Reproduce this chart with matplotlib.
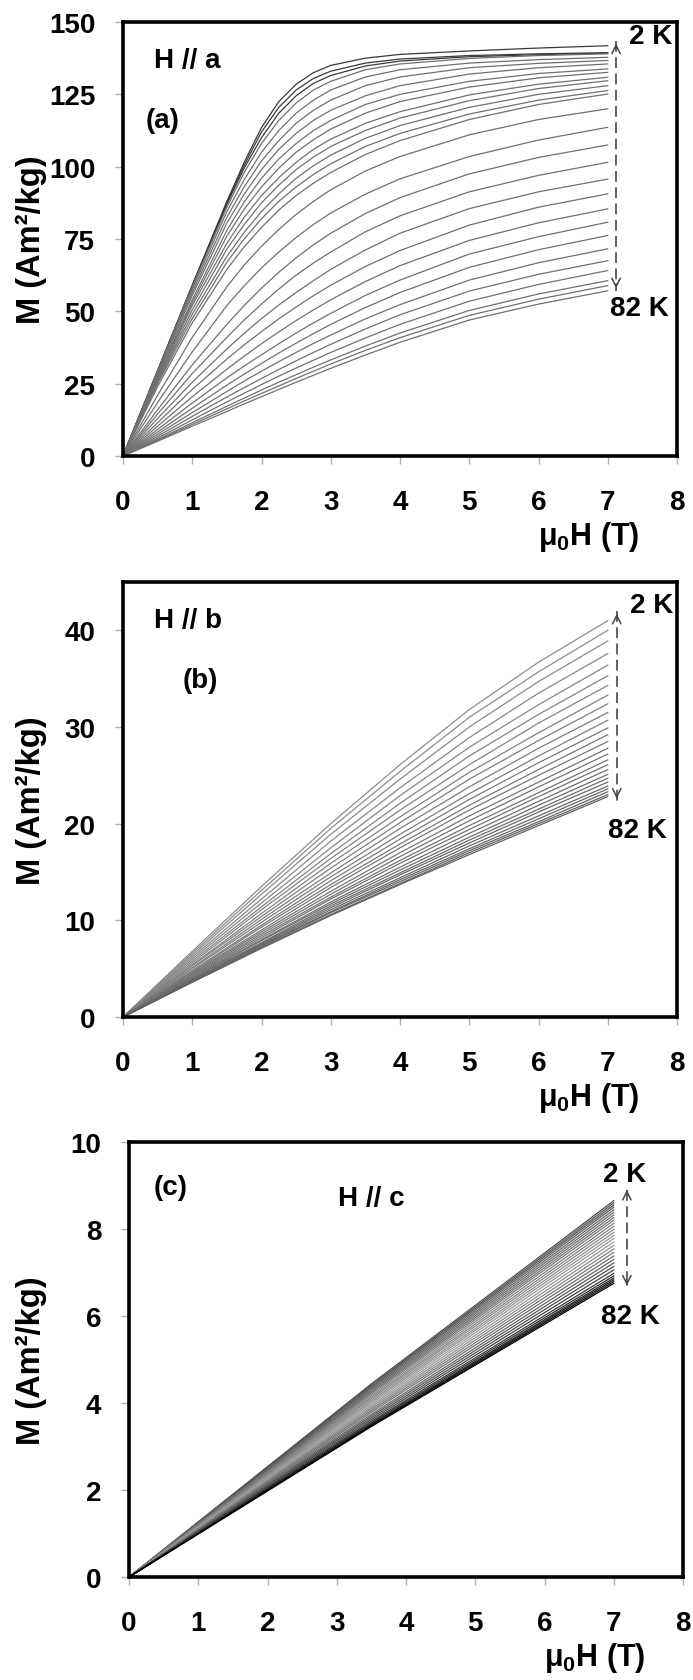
import matplotlib
matplotlib.use('Agg')
import matplotlib.pyplot as plt
import numpy as np

plt.rcParams['font.family'] = ['Liberation Sans', 'DejaVu Sans']
plt.rcParams['font.weight'] = 'bold'
plt.rcParams['axes.labelweight'] = 'bold'
plt.rcParams['mathtext.fontset'] = 'custom'
plt.rcParams['mathtext.bf'] = 'Liberation Sans:bold'
plt.rcParams['mathtext.rm'] = 'Liberation Sans:bold'
plt.rcParams['mathtext.default'] = 'bf'

# ---- Daten: M(H) Kurven von 2 K (oben) bis 82 K (unten) ----
# (a) H // a
H_a = [0, 0.5, 1, 1.5, 1.75, 2, 2.25, 2.5, 2.75, 3, 3.5, 4, 5, 6, 7]
M_a = [
    [0, 29.5, 59.0, 88.0, 101.5, 113.5, 122.5, 128.5, 132.5, 135.0, 137.5, 138.8, 140.0, 141.0, 141.8],
    [0, 29.5, 59.0, 87.5, 100.5, 112.0, 120.5, 126.5, 130.5, 133.0, 135.8, 137.2, 138.4, 139.0, 139.4],
    [0, 29.5, 58.5, 87.0, 99.5, 110.0, 118.5, 124.5, 128.8, 131.5, 134.8, 136.5, 138.0, 138.7, 139.2],
    [0, 29.3, 58.5, 86.0, 98.0, 108.0, 116.0, 122.0, 126.5, 129.5, 133.5, 135.5, 137.4, 138.4, 139.0],
    [0, 29.0, 57.5, 84.5, 95.5, 105.0, 112.5, 118.5, 123.0, 126.5, 131.0, 133.5, 135.8, 137.0, 137.8],
    [0, 28.5, 56.5, 82.5, 93.0, 102.0, 109.0, 115.0, 119.5, 123.0, 128.0, 131.0, 134.2, 135.7, 136.7],
    [0, 28.0, 55.5, 80.5, 90.5, 99.0, 106.0, 111.5, 116.0, 119.5, 124.5, 128.0, 132.0, 134.2, 135.5],
    [0, 27.5, 54.0, 78.0, 87.8, 96.0, 102.7, 108.0, 112.5, 116.0, 121.5, 125.0, 129.5, 132.2, 133.8],
    [0, 27.0, 53.0, 76.0, 85.3, 93.0, 99.5, 105.0, 109.3, 113.0, 118.5, 122.5, 127.5, 130.7, 132.6],
    [0, 26.5, 52.0, 73.5, 82.5, 90.0, 96.2, 101.5, 106.0, 109.5, 115.0, 119.0, 124.8, 128.5, 130.9],
    [0, 26.0, 50.5, 71.5, 80.0, 87.5, 93.6, 99.0, 103.3, 107.0, 112.5, 116.8, 122.8, 127.0, 129.7],
    [0, 25.5, 49.0, 69.0, 77.3, 84.5, 90.6, 96.0, 100.3, 104.0, 109.8, 114.2, 120.5, 125.0, 128.0],
    [0, 25.0, 47.5, 67.0, 75.0, 82.0, 88.0, 93.0, 97.3, 101.0, 107.0, 111.5, 118.2, 123.0, 126.3],
    [0, 24.0, 46.0, 64.5, 72.3, 79.0, 85.0, 90.0, 94.3, 98.0, 104.2, 109.0, 116.3, 121.5, 125.1],
    [0, 21.0, 41.0, 58.5, 66.0, 72.5, 78.3, 83.5, 88.0, 92.0, 98.5, 103.5, 111.0, 116.3, 120.0],
    [0, 18.5, 36.0, 52.0, 58.8, 65.0, 70.5, 75.5, 80.0, 84.0, 90.5, 95.8, 103.5, 109.2, 113.6],
    [0, 16.0, 31.5, 45.5, 52.0, 58.0, 63.5, 68.5, 73.0, 77.0, 83.8, 89.3, 97.5, 103.2, 107.5],
    [0, 14.5, 28.5, 41.0, 47.0, 52.5, 57.7, 62.5, 66.7, 70.5, 77.5, 83.0, 91.3, 97.0, 101.5],
    [0, 13.0, 25.5, 37.0, 42.4, 47.5, 52.2, 56.5, 60.6, 64.5, 71.2, 77.0, 85.5, 91.3, 95.7],
    [0, 11.5, 23.0, 33.5, 38.4, 43.0, 47.4, 51.5, 55.4, 59.0, 65.5, 71.0, 79.8, 86.0, 90.6],
    [0, 10.3, 20.5, 30.0, 34.5, 38.8, 42.9, 46.8, 50.5, 54.0, 60.3, 65.8, 74.5, 80.6, 85.4],
    [0, 9.2, 18.3, 27.0, 31.1, 35.0, 38.8, 42.5, 46.0, 49.3, 55.5, 60.8, 69.8, 75.8, 80.8],
    [0, 8.3, 16.5, 24.5, 28.3, 32.0, 35.6, 39.0, 42.3, 45.5, 51.3, 56.5, 65.2, 71.3, 76.2],
    [0, 7.5, 15.0, 22.3, 25.9, 29.3, 32.6, 35.8, 38.9, 41.8, 47.4, 52.3, 60.8, 66.8, 71.6],
    [0, 6.8, 13.7, 20.4, 23.6, 26.8, 29.9, 32.9, 35.8, 38.6, 43.9, 48.8, 57.0, 62.8, 67.5],
    [0, 6.2, 12.5, 18.7, 21.7, 24.7, 27.6, 30.4, 33.1, 35.8, 40.8, 45.5, 53.5, 59.3, 64.1],
    [0, 5.7, 11.5, 17.2, 20.0, 22.8, 25.5, 28.1, 30.7, 33.2, 38.0, 42.5, 50.3, 56.0, 60.6],
    [0, 5.4, 10.9, 16.3, 19.0, 21.6, 24.2, 26.8, 29.3, 31.8, 36.5, 40.9, 48.6, 54.2, 58.9],
    [0, 5.1, 10.3, 15.4, 18.0, 20.5, 23.0, 25.5, 27.9, 30.3, 34.9, 39.3, 47.0, 52.5, 57.1],
]

# (b) H // b
H_b = [0, 1, 2, 3, 4, 5, 6, 7]
M_b = [
    [0, 6.8, 13.5, 20.0, 26.1, 31.8, 36.7, 41.0],
    [0, 6.6, 13.1, 19.5, 25.4, 31.0, 35.7, 40.0],
    [0, 6.4, 12.7, 18.9, 24.6, 30.0, 34.7, 38.9],
    [0, 6.2, 12.2, 18.2, 23.7, 28.9, 33.5, 37.6],
    [0, 6.0, 11.8, 17.5, 22.9, 27.9, 32.3, 36.4],
    [0, 5.8, 11.4, 16.9, 22.1, 27.0, 31.3, 35.3],
    [0, 5.6, 11.1, 16.4, 21.4, 26.1, 30.4, 34.3],
    [0, 5.4, 10.7, 15.9, 20.7, 25.3, 29.4, 33.3],
    [0, 5.3, 10.4, 15.4, 20.1, 24.6, 28.6, 32.4],
    [0, 5.1, 10.1, 14.9, 19.5, 23.8, 27.8, 31.5],
    [0, 5.0, 9.8, 14.5, 18.9, 23.1, 27.0, 30.7],
    [0, 4.8, 9.5, 14.1, 18.4, 22.5, 26.3, 29.9],
    [0, 4.7, 9.3, 13.7, 17.9, 21.9, 25.6, 29.2],
    [0, 4.6, 9.0, 13.4, 17.5, 21.4, 25.0, 28.5],
    [0, 4.5, 8.8, 13.0, 17.0, 20.8, 24.3, 27.8],
    [0, 4.4, 8.6, 12.7, 16.6, 20.3, 23.8, 27.2],
    [0, 4.3, 8.4, 12.4, 16.2, 19.8, 23.2, 26.6],
    [0, 4.2, 8.2, 12.2, 15.9, 19.4, 22.8, 26.1],
    [0, 4.1, 8.0, 11.9, 15.5, 19.0, 22.3, 25.6],
    [0, 4.0, 7.9, 11.7, 15.2, 18.6, 21.9, 25.1],
    [0, 3.9, 7.7, 11.5, 14.9, 18.3, 21.5, 24.7],
    [0, 3.9, 7.6, 11.3, 14.7, 18.0, 21.2, 24.3],
    [0, 3.8, 7.5, 11.1, 14.4, 17.7, 20.8, 23.9],
    [0, 3.7, 7.4, 10.9, 14.2, 17.4, 20.5, 23.6],
    [0, 3.7, 7.3, 10.8, 14.0, 17.2, 20.2, 23.3],
    [0, 3.6, 7.2, 10.6, 13.8, 17.0, 20.0, 23.0],
    [0, 3.6, 7.1, 10.5, 13.7, 16.8, 19.8, 22.8],
]

# (c) H // c  (nahezu linear)
H_c = [0, 3.5, 7]
M_c_mid = [4.44, 4.41, 4.39, 4.36, 4.33, 4.30, 4.27, 4.24, 4.21, 4.17,
           4.13, 4.10, 4.06, 4.03, 3.99, 3.95, 3.91, 3.87, 3.83, 3.79,
           3.74, 3.70, 3.66, 3.62, 3.58, 3.55, 3.52, 3.50, 3.48, 3.46]
M_c_end = [8.65, 8.60, 8.55, 8.50, 8.44, 8.38, 8.32, 8.26, 8.20, 8.13,
           8.06, 7.99, 7.92, 7.85, 7.78, 7.70, 7.62, 7.54, 7.46, 7.38,
           7.30, 7.22, 7.14, 7.06, 6.98, 6.92, 6.87, 6.83, 6.79, 6.75]

x_ticks = [0, 1, 2, 3, 4, 5, 6, 7, 8]
yticks_a = [0, 25, 50, 75, 100, 125, 150]
yticks_b = [0, 10, 20, 30, 40]
yticks_c = [0, 2, 4, 6, 8, 10]

W, Hpx = 693, 1681
fig = plt.figure(figsize=(W / 100, Hpx / 100), dpi=100)


def frame(ax, ylim, yticks, ylab_x):
    ax.set_xlim(0, 8)
    ax.set_ylim(*ylim)
    ax.set_xticks(x_ticks)
    ax.set_yticks(yticks)
    for sp in ax.spines.values():
        sp.set_linewidth(2.6)
        sp.set_color('black')
    ax.tick_params(direction='out', length=6, width=1.0, color='#b0b0b0',
                   labelsize=20)
    ax.tick_params(axis='x', pad=18)
    ax.tick_params(axis='y', pad=14)
    ax.set_ylabel('M (Am²/kg)', fontsize=23.5, fontweight='bold', va='center')
    ax.yaxis.set_label_coords(ylab_x, 0.5)
    ax.set_xlabel('μ$_0$H (T)', fontsize=22, fontweight='bold', va='center')
    ax.xaxis.set_label_coords(0.84, -0.185)


def arrow(ax, x, ytop, ybot):
    ax.plot([x, x], [ytop, ybot], color='#555555', lw=1.3, dashes=(6, 3))
    span = ytop - ybot
    ax.annotate('', xy=(x, ytop), xytext=(x, ytop - 0.04 * span),
                arrowprops=dict(arrowstyle='->,head_length=0.6,head_width=0.3',
                                color='#444444', lw=1.1))
    ax.annotate('', xy=(x, ybot), xytext=(x, ybot + 0.04 * span),
                arrowprops=dict(arrowstyle='->,head_length=0.6,head_width=0.3',
                                color='#444444', lw=1.1))


# (a)
ax1 = fig.add_axes([123 / W, 1 - 457 / Hpx, 554 / W, 434 / Hpx])
for i, row in enumerate(M_a):
    ax1.plot(H_a, row, color='#3a3a3a' if i < 3 else '#707070', lw=0.9)
frame(ax1, (0, 150), yticks_a, -0.166)
arrow(ax1, 7.12, 143.5, 57)
ax1.text(0.45, 137, 'H // a', fontsize=20, va='center')
ax1.text(0.32, 116, '(a)', fontsize=20, va='center')
ax1.text(7.3, 145, '2 K', fontsize=20, va='center')
ax1.text(7.03, 51, '82 K', fontsize=20, va='center')

# (b)
ax2 = fig.add_axes([123 / W, 1 - 1018 / Hpx, 554 / W, 435 / Hpx])
greys_b = np.linspace(0.55, 0.38, len(M_b))
for g, row in zip(greys_b, M_b):
    ax2.plot(H_b, row, color=str(g), lw=0.9)
frame(ax2, (0, 45), yticks_b, -0.166)
arrow(ax2, 7.13, 42.0, 22.3)
ax2.text(0.45, 41.1, 'H // b', fontsize=20, va='center')
ax2.text(0.86, 34.9, '(b)', fontsize=20, va='center')
ax2.text(7.32, 42.6, '2 K', fontsize=20, va='center')
ax2.text(7.0, 19.3, '82 K', fontsize=20, va='center')

# (c)
ax3 = fig.add_axes([129 / W, 1 - 1578 / Hpx, 554 / W, 435 / Hpx])
n_c = len(M_c_end)
greys_c = np.concatenate([np.linspace(0.30, 0.60, n_c // 2),
                          np.linspace(0.60, 0.0, n_c - n_c // 2)])
for g, m1, m2 in zip(greys_c, M_c_mid, M_c_end):
    ax3.plot(H_c, [0, m1, m2], color=str(g), lw=0.9)
frame(ax3, (0, 10), yticks_c, -0.177)
arrow(ax3, 7.19, 8.9, 6.7)
ax3.text(0.36, 8.97, '(c)', fontsize=20, va='center')
ax3.text(3.02, 8.72, 'H // c', fontsize=20, va='center')
ax3.text(6.85, 9.26, '2 K', fontsize=20, va='center')
ax3.text(6.82, 6.0, '82 K', fontsize=20, va='center')

fig.savefig('out.png', dpi=100)
